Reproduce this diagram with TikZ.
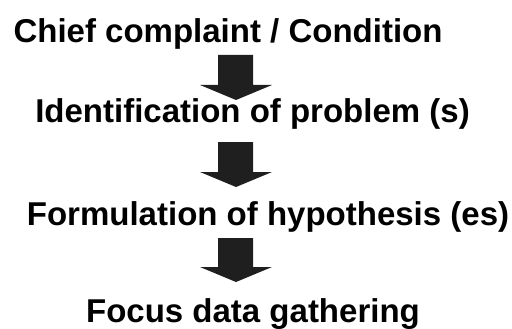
\documentclass[tikz,border=0pt]{standalone}
\usepackage{fontspec}
\setmainfont{Liberation Sans}
\begin{document}
\begin{tikzpicture}[x=1pt,y=-1pt,
  steptext/.style={anchor=base,inner sep=0pt,font=\fontsize{33}{36}\selectfont\bfseries,text=black},
  blockarrow/.style={fill=black!88,draw=none}]
\useasboundingbox (0,0) rectangle (512,329);
% the four steps
\node[steptext] (s1) at (228,43) {Chief complaint / Condition};
\node[steptext] (s2) at (252.5,123) {Identification of problem (s)};
\node[steptext] (s3) at (268,225) {Formulation of hypothesis (es)};
\node[steptext] (s4) at (253,322) {Focus data gathering};
% downward block arrows between the steps (top of shaft, base of head)
\foreach \name/\top/\base in {a1/55/85, a2/142/172, a3/238/267} {
  \coordinate (\name) at (236,\top);
  \fill[blockarrow] (218,\top) -- (253,\top) -- (253,\base) -- (272,\base)
    -- (236,\base+15) -- (200,\base) -- (218,\base) -- cycle;
}
\end{tikzpicture}
\end{document}
